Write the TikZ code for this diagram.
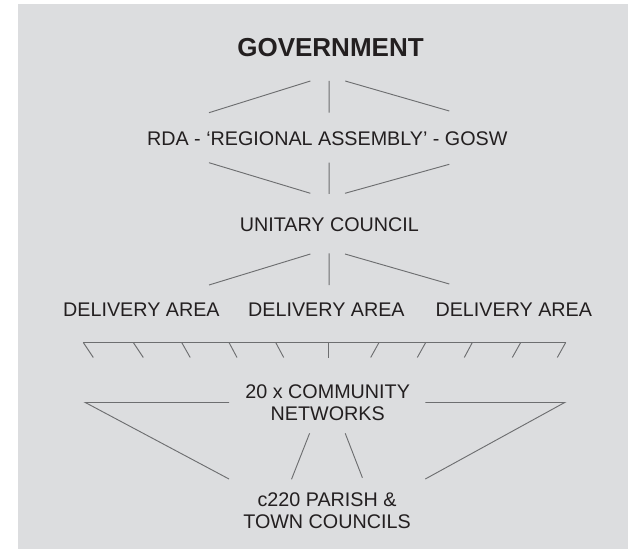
\documentclass[tikz,border=0pt]{standalone}
\usepackage{fontspec}
\setmainfont{Liberation Sans}
\usetikzlibrary{calc}
\definecolor{panelgrey}{HTML}{DCDDDF}
\definecolor{linkgrey}{HTML}{6D6E70}
\definecolor{inkgrey}{HTML}{231F20}

\begin{document}
\begin{tikzpicture}[x=0.75pt,y=-0.75pt,
  lvl/.style={anchor=base,inner sep=0pt,text=inkgrey,align=center,font=\fontsize{14.8}{16}\selectfont},
  link/.style={draw=linkgrey,line width=.7pt}]
 \useasboundingbox (0,0) rectangle (628,549);
 \fill[panelgrey] (18,4) rectangle (628,549);
 % tiers, top to bottom (two-line nodes sit on their last baseline)
 \node[lvl,font=\fontsize{19.5}{22}\selectfont\bfseries] (gov) at (330.5,56.7) {GOVERNMENT};
 \node[lvl] (rda) at (327.3,146) {RDA - ‘REGIONAL ASSEMBLY’ - GOSW};
 \node[lvl] (uc) at (329.4,231) {UNITARY COUNCIL};
 \node[lvl] (da1) at (141.4,316) {DELIVERY AREA};
 \node[lvl] (da2) at (326.4,316) {DELIVERY AREA};
 \node[lvl] (da3) at (513.8,316) {DELIVERY AREA};
 \node[lvl] (cn) at (327.7,420) {20 x COMMUNITY\\NETWORKS};
 \node[lvl] (pc) at (327,528.3) {c220 PARISH \&\\TOWN COUNCILS};
 % government -> regional
 \draw[link] ($(gov.base)+(-20.1,24.3)$) -- ($(rda.base)+(-118.3,-33.3)$);
 \draw[link] ($(gov.base)+(-1.3,24.3)$) -- ($(rda.base)+(1.9,-33.3)$);
 \draw[link] ($(gov.base)+(14.7,24.3)$) -- ($(rda.base)+(122,-35)$);
 % regional -> unitary
 \draw[link] ($(rda.base)+(-118.3,16.7)$) -- ($(uc.base)+(-19,-37.7)$);
 \draw[link] ($(rda.base)+(1.9,16.7)$) -- ($(uc.base)+(-0.2,-37)$);
 \draw[link] ($(rda.base)+(122,18.3)$) -- ($(uc.base)+(15.6,-37.7)$);
 % unitary -> delivery areas
 \draw[link] ($(uc.base)+(-19,23)$) -- ($(da1.base)+(67.6,-31)$);
 \draw[link] ($(uc.base)+(-0.2,22.3)$) -- ($(da2.base)+(2.8,-31)$);
 \draw[link] ($(uc.base)+(15.6,23)$) -- ($(da3.base)+(-64.5,-32)$);
 % comb under the delivery areas
 \coordinate (combL) at (83.3,342.5);
 \coordinate (combR) at (565.7,342.5);
 \draw[link] (combL) -- (combR);
 \foreach \x/\dx in {83.3/10,133.3/10,181.7/8.5,229/8,275.7/8,328.3/0,
                     379/-8.3,425.7/-8.4,472.3/-8,520.7/-8.4,565.7/-8.4}
   \draw[link] (\x,342.5) -- ++(\dx,15);
 % community networks -> parish & town councils
 \draw[link] ($(cn.base)+(-98.7,-17.5)$) -- ++(-143.7,0) -- ($(pc.base)+(-98,-49.3)$);
 \draw[link] ($(cn.base)+(97.6,-17.5)$) -- ++(139.4,0) -- ($(pc.base)+(98.3,-49.3)$);
 \draw[link] ($(cn.base)+(-18.1,13.3)$) -- ($(pc.base)+(-35.5,-49)$);
 \draw[link] ($(cn.base)+(17.5,13.3)$) -- ($(pc.base)+(35.4,-50.6)$);
\end{tikzpicture}
\end{document}
